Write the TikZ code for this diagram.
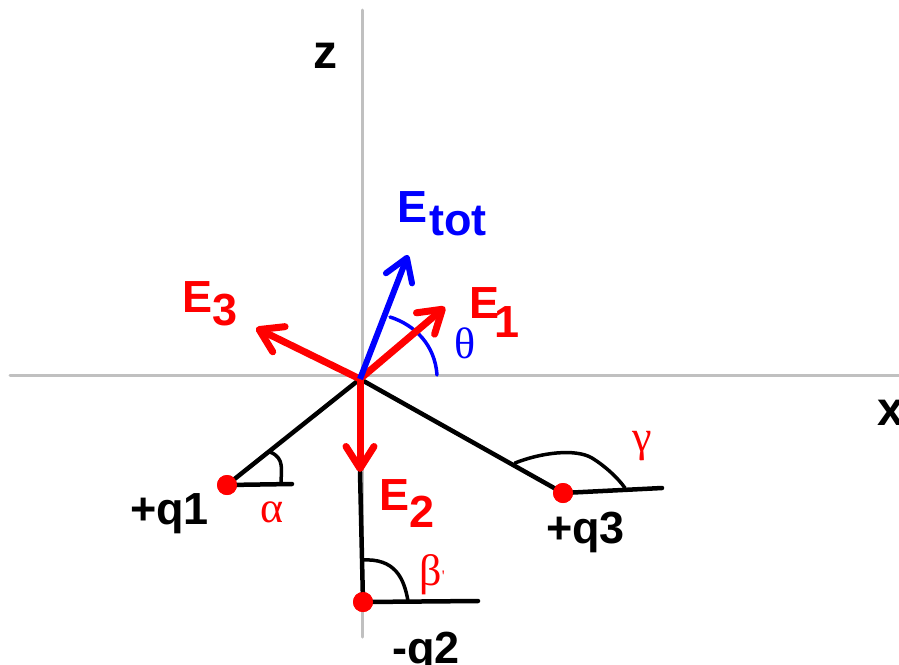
\documentclass[tikz,border=0pt]{standalone}
\usepackage{fontspec}
\setmainfont{Liberation Sans}
\newfontfamily\gkfont{Liberation Serif}
\usetikzlibrary{arrows.meta}
\definecolor{axisgray}{RGB}{192,192,192}
\definecolor{fred}{RGB}{255,0,0}
\definecolor{fblue}{RGB}{0,0,255}
\begin{document}
\begin{tikzpicture}[x=1pt,y=-1pt,
  axis/.style={draw=axisgray, line width=3pt, line cap=round},
  seg/.style={draw=black, line width=4.5pt, line cap=round, line join=round},
  anglearc/.style={draw=black, line width=3.5pt, line cap=round},
  vec/.style={line width=7pt, -{Straight Barb[round,length=22pt,width=28pt]}},
  lbl/.style={inner sep=0pt, anchor=base west, font=\bfseries\fontsize{45}{45}\selectfont},
  greek/.style={inner sep=0pt, font=\gkfont\fontsize{44}{44}\selectfont, text=fred},
  charge/.style={circle, fill=fred, minimum size=20pt, inner sep=0pt}]
\useasboundingbox (0,0) rectangle (899,664);
% axes
\coordinate (zt) at (362,10);
\coordinate (zb) at (362,637);
\coordinate (xl) at (10,375);
\coordinate (xr) at (905,375);
\draw[axis] (zt) -- (zb);
\draw[axis] (xl) -- (xr);
% points
\coordinate (O) at (360,379);
\node[charge] (q1) at (227,485) {};
\node[charge] (q2) at (363,602) {};
\node[charge] (q3) at (563,493) {};
\coordinate (t3) at (256,328);
\coordinate (t1) at (445,307);
\coordinate (tt) at (408,255);
\coordinate (t2) at (360,472);
\coordinate (h1) at (292,484);
\coordinate (h2) at (478,601);
\coordinate (h3) at (662,488);
% black segments
\draw[seg] (O) -- (q1.center) -- (h1);
\draw[seg] (O) -- (q3.center);
\draw[seg] (q3.center) -- (h3);
\draw[seg] (t2) -- (q2.center) -- (h2);
% angle arcs
\draw[anglearc] (270,452) .. controls (285,458) and (281,470) .. (281,484);
\draw[anglearc] (362,560) .. controls (395,558) and (404,578) .. (408,601);
\draw[anglearc] (515,463) .. controls (540,453) and (575,448) .. (592,458) .. controls (605,466) and (618,478) .. (625,488);
\draw[draw=fblue, line width=3.5pt, line cap=round] (390,317) .. controls (415,325) and (435,345) .. (437,375);
% vectors
\draw[vec, draw=fred] (O) -- (t3);
\draw[vec, draw=fred] (O) -- (t1);
\draw[vec, draw=fred] (O) -- (t2);
\draw[vec, draw=fblue, line width=6pt] (O) -- (tt);
% redraw charges on top
\node[charge] at (q1) {};
\node[charge] at (q2) {};
\node[charge] at (q3) {};
% labels
\node[lbl, text=fred] (lE3) at (182,312) {E\raisebox{-13pt}{3}};
\node[lbl, text=fblue] (lEt) at (397,222) {E\kern2pt\raisebox{-13pt}{tot}};
\node[lbl, text=fred] (lE1) at (469,318) {E\kern-5pt\raisebox{-19pt}{1}};
\node[lbl, text=fred] (lE2) at (379,510) {E\raisebox{-17pt}{2}};
\node[greek, text=fblue] (lth) at (465,343) {θ};
\node[greek] (lal) at (272,512) {α};
\node[greek] (lbe) at (432,575) {β\raisebox{4pt}{\fontsize{16}{16}\selectfont'}};
\node[greek] (lga) at (642,446) {γ};
\node[lbl, font=\bfseries\fontsize{48}{48}\selectfont] (lz) at (313,68) {z};
\node[lbl, font=\bfseries\fontsize{48}{48}\selectfont] (lx) at (877,425) {x};
\node[lbl] (lq1) at (130,524) {+q1};
\node[lbl] (lq3) at (546,543) {+q3};
\node[lbl] (lq2) at (392,663) {-q2};
\end{tikzpicture}
\end{document}
